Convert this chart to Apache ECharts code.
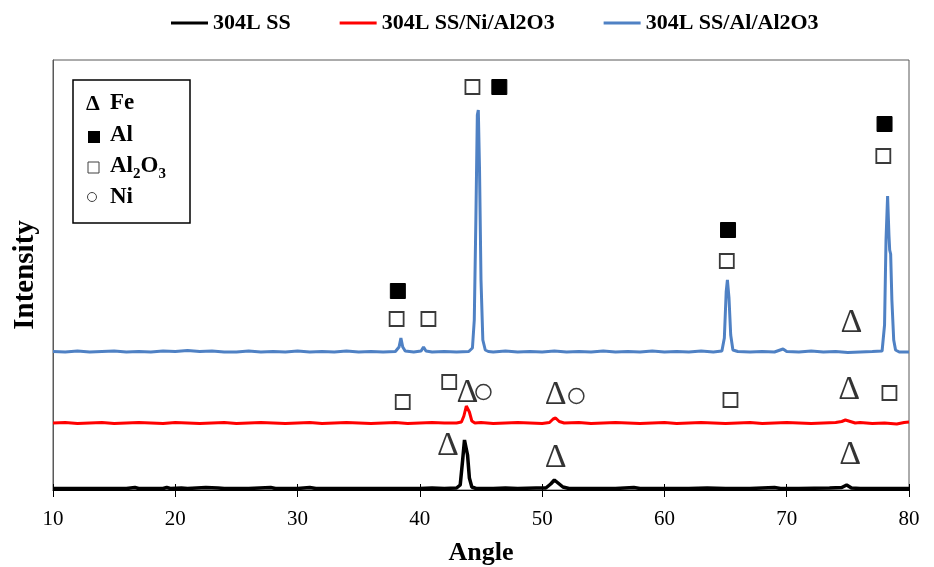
<!DOCTYPE html>
<html>
<head>
<meta charset="utf-8">
<script src="https://cdn.jsdelivr.net/npm/echarts@6/dist/echarts.min.js"></script>
<style>
  html, body { margin: 0; padding: 0; background: #fff; }
  #xrdChart { width: 934px; height: 567px; }
</style>
</head>
<body>
<div id="xrdChart"></div>
<script>
// 轴刻度
var angleTicks = [10, 20, 30, 40, 50, 60, 70, 80];
var seriesNames = ['304L SS', '304L SS/Ni/Al2O3', '304L SS/Al/Al2O3'];

// 304L SS (black) [angle, intensity]
var ssData = [
	[10,1.5],[12,1.5],[14,1.5],[16,1.5],[16.7,2.5],[17,1.5],[19,1.5],[19.3,2.5],[19.6,1.5],[20.5,2],[21,1.5],[22.5,2.5],[23.5,2],[24,1.5],
	[26,1.5],[27.8,2.5],[28.2,1.5],[30,1.5],[31,2.5],[31.5,1.5],[34,1.5],[36,1.5],[38,1.5],[40,1.5],[41,2],[42,1.5],[43,2],
	[43.3,5],[43.5,30],[43.65,50],[43.75,49],[43.9,35],[44.05,12],[44.25,3],[44.6,1.5],[46,1.5],[47,2],[48,1.5],[49.5,2],
	[50.3,2],[50.7,6],[51.0,10],[51.3,7],[51.7,3],[52.2,1.5],[54,1.5],[56,1.5],[57.5,2.5],[58,1.5],[60,1.5],[62,1.5],[63.5,2],
	[65,1.5],[67,1.5],[69,2.5],[69.5,1.5],[71,1.5],[73.5,2],[74.5,2.5],[74.9,5],[75.3,2],[76,1.5],[78,1.5],[80,1.5]
];
// 304L SS/Ni/Al2O3 (red)
var niData = [
	[10,67],[11,67.5],[12,66.5],[13,67],[14,67.5],[15,66.5],[16,67],[17,67.5],[18,67],[19,66.5],[20,67.5],[21,67],[22,66.5],
	[23,67],[24,67.5],[25,66.5],[26,67],[27,67.5],[28,67],[29,66.5],[30,67],[31,67.5],[32,66.5],[33,67],[34,67.5],[35,67],
	[36,66.5],[37,67],[38,67.5],[39,66.5],[40,67],[41,67.5],[42,67],[43,67],[43.4,68],[43.6,74],[43.8,84],[43.9,85],
	[44.05,78],[44.25,69],[44.5,67],[45,67.5],[46,66.5],[47,67],[48,67.5],[49,67],[50,66.5],[50.6,67.5],[50.9,71],[51.1,72],
	[51.4,68.5],[51.8,67],[53,67.5],[54,66.5],[55,67],[56,67.5],[57,67],[58,66.5],[59,67],[60,67.5],[61,66.5],[62,67],
	[63,67.5],[64,67],[65,66.5],[66,67],[67,67.5],[68,66.5],[69,67],[70,67.5],[71,67],[72,66.5],[73,67],[74,67.5],
	[74.5,68.5],[74.8,70],[75.2,68.5],[75.6,67],[76,67.5],[77,66.5],[78,67],[79,66],[79.6,67.5],[80,68]
];
// 304L SS/Al/Al2O3 (blue)
var alData = [
	[10,138.5],[11,138],[12,139],[13,138],[14,138.5],[15,139],[16,138],[17,138.5],[18,138],[19,139],[20,138.5],[21,139.5],
	[22,138.5],[23,139],[24,138],[25,138],[26,139],[27,138],[28,138.5],[29,138],[30,139],[31,138],[32,138.5],[33,138],
	[34,139],[35,138],[36,138.5],[37,138],[38,138.5],[38.3,143],[38.45,152],[38.6,143],[38.8,139],[39.5,138],[40.1,139],
	[40.3,143],[40.5,139],[41,138],[42,138.5],[43,138],[44,138.5],[44.3,142],[44.45,170],[44.58,270],[44.7,375],[44.78,380],
	[44.88,320],[45.0,210],[45.15,150],[45.35,140],[45.6,138.5],[46,138],[47,139],[48,138],[49,138.5],[50,138],[51,139],
	[52,138],[53,138.5],[54,138],[55,139],[56,138],[57,138.5],[58,138],[59,139],[60,138],[61,138.5],[62,138],[63,139],
	[64,138],[64.7,139],[64.9,152],[65.05,198],[65.15,210],[65.28,192],[65.42,155],[65.6,140],[66,138.5],[67,138],
	[68,138.5],[69,138],[69.7,141],[70,138.5],[71,138],[72,139],[73,138],[74,138.5],[75,137.5],[76,138],[77,138.5],
	[77.8,139],[78.0,165],[78.12,250],[78.25,294],[78.36,255],[78.42,240],[78.5,236],[78.6,190],[78.75,150],[78.9,140],
	[79.2,138],[80,138]
];

// 标注符号位置 [angle, intensity]
var feMarks = [[42.3, 44], [51.1, 32], [75.2, 35], [43.9, 97], [51.1, 95], [75.1, 100], [75.3, 167]];
var alMarks = [[38.2, 199], [46.5, 403], [65.2, 260], [78.0, 366]];
var al2o3Marks = [[38.1, 171], [40.7, 171], [44.3, 403], [65.1, 229], [77.9, 334], [38.6, 88], [42.4, 108], [65.4, 90], [78.4, 97]];
var niMarks = [[45.2, 98], [52.8, 94]];

var serifFont = '"Liberation Serif", "Times New Roman", serif';

var xrdChart = echarts.init(document.getElementById('xrdChart'));

var lineSeries = function (name, data, color, width) {
	return {
		name: name,
		type: 'line',
		data: data,
		symbol: 'none',
		smooth: false,
		lineStyle: { color: color, width: width },
		itemStyle: { color: color },
		z: 3
	};
};

var xrdOption = {
	animation: false,
	backgroundColor: '#fff',
	legend: {
		data: seriesNames,
		icon: 'rect',
		left: 166,
		top: 7,
		itemWidth: 37,
		itemHeight: 3,
		itemGap: 49,
		textStyle: {
			fontFamily: serifFont,
			fontWeight: 'bold',
			fontSize: 22,
			color: '#000'
		}
	},
	grid: {
		left: 53,
		right: 25,
		top: 60,
		bottom: 77,
		outerBoundsMode: 'none',
		containLabel: false,
		show: true,
		borderColor: '#595959',
		borderWidth: 1
	},
	xAxis: [{
		type: 'value',
		min: 10,
		max: 80,
		interval: 10,
		name: 'Angle',
		nameLocation: 'middle',
		nameGap: 50,
		nameTextStyle: { fontFamily: serifFont, fontWeight: 'bold', fontSize: 26, color: '#000' },
		axisLine: { show: true, lineStyle: { color: '#000', width: 1 } },
		axisTick: { show: true, inside: false, length: 7, lineStyle: { color: '#000' } },
		axisLabel: {
			fontFamily: serifFont,
			fontSize: 21,
			color: '#000',
			margin: 19,
			formatter: function (v) { return angleTicks.indexOf(v) > -1 ? String(v) : ''; }
		},
		splitLine: { show: false }
	}, {
		type: 'value',
		position: 'bottom',
		offset: 0,
		min: 10,
		max: 80,
		interval: 10,
		axisLine: { show: false },
		axisTick: { show: true, inside: true, length: 6, lineStyle: { color: '#000' } },
		axisLabel: { show: false },
		splitLine: { show: false }
	}],
	yAxis: {
		type: 'value',
		min: 0,
		max: 430,
		name: 'Intensity',
		nameLocation: 'middle',
		nameGap: 13,
		nameTextStyle: { fontFamily: serifFont, fontWeight: 'bold', fontSize: 29, color: '#000' },
		axisLine: { show: true, lineStyle: { color: '#595959', width: 1 } },
		axisTick: { show: false },
		axisLabel: { show: false },
		splitLine: { show: false }
	},
	series: [
		lineSeries(seriesNames[0], ssData, '#000000', 3.5),
		lineSeries(seriesNames[1], niData, '#ff0000', 3),
		lineSeries(seriesNames[2], alData, '#4f81c4', 3),
		{
			name: 'Fe',
			type: 'scatter',
			data: feMarks,
			symbol: 'circle',
			symbolSize: 1,
			itemStyle: { color: 'rgba(0,0,0,0)' },
			label: {
				show: true,
				position: 'inside',
				formatter: 'Δ',
				fontFamily: serifFont,
				fontSize: 34,
				color: '#000'
			},
			z: 5
		},
		{
			name: 'Al',
			type: 'scatter',
			data: alMarks,
			symbol: 'rect',
			symbolSize: 15,
			itemStyle: { color: '#000', borderColor: '#000', borderWidth: 1, opacity: 1 },
			z: 5
		},
		{
			name: 'Al2O3 mark',
			type: 'scatter',
			data: al2o3Marks,
			symbol: 'rect',
			symbolSize: 14,
			itemStyle: { color: '#fff', borderColor: '#3a3a3a', borderWidth: 1.8, opacity: 1 },
			z: 5
		},
		{
			name: 'Ni',
			type: 'scatter',
			data: niMarks,
			symbol: 'circle',
			symbolSize: 15,
			itemStyle: { color: '#fff', borderColor: '#3a3a3a', borderWidth: 1.5, opacity: 1 },
			z: 5
		}
	],
	// 图内相标识框
	graphic: [
		{ type: 'rect', shape: { x: 73, y: 80, width: 117, height: 143 }, style: { fill: '#fff', stroke: '#000', lineWidth: 1.5 }, z: 10 },
		{ type: 'text', x: 86, y: 93, style: { text: 'Δ', font: 'bold 22px ' + serifFont, fill: '#000' }, z: 11 },
		{ type: 'text', x: 110, y: 92, style: { text: 'Fe', font: 'bold 23px ' + serifFont, fill: '#000' }, z: 11 },
		{ type: 'rect', shape: { x: 88, y: 131, width: 12, height: 12 }, style: { fill: '#000' }, z: 11 },
		{ type: 'text', x: 110, y: 124, style: { text: 'Al', font: 'bold 23px ' + serifFont, fill: '#000' }, z: 11 },
		{ type: 'rect', shape: { x: 88, y: 162, width: 11, height: 11 }, style: { fill: '#fff', stroke: '#404040', lineWidth: 1 }, z: 11 },
		{
			type: 'text', x: 110, y: 155, z: 11,
			style: {
				text: '{a|Al}{s|2}{a|O}{s|3}',
				rich: {
					a: { fontFamily: serifFont, fontWeight: 'bold', fontSize: 23, fill: '#000', verticalAlign: 'top' },
					s: { fontFamily: serifFont, fontWeight: 'bold', fontSize: 15, fill: '#000', padding: [12, 0, 0, 0], verticalAlign: 'top' }
				}
			}
		},
		{ type: 'circle', shape: { cx: 92, cy: 197, r: 4.5 }, style: { fill: '#fff', stroke: '#404040', lineWidth: 1 }, z: 11 },
		{ type: 'text', x: 110, y: 186, style: { text: 'Ni', font: 'bold 23px ' + serifFont, fill: '#000' }, z: 11 }
	]
};
xrdChart.setOption(xrdOption);
</script>
</body>
</html>
